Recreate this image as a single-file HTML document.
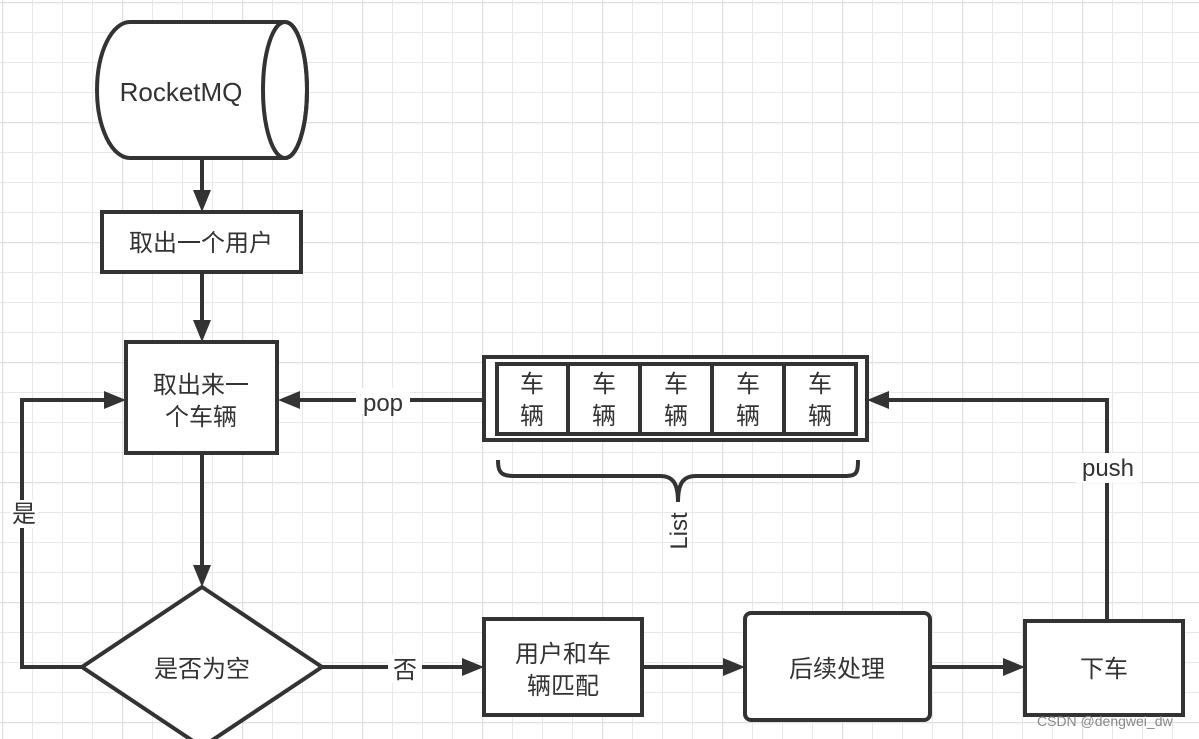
<!DOCTYPE html>
<html><head><meta charset="utf-8"><style>
html,body{margin:0;padding:0;background:#fff}
svg{display:block}
text{font-family:"Liberation Sans","Noto Sans CJK SC",sans-serif;fill:#333;font-size:24px}
</style></head><body>
<svg width="1199" height="739" viewBox="0 0 1199 739" xmlns="http://www.w3.org/2000/svg">
<defs>
<pattern id="g" x="2" y="2" width="30" height="30" patternUnits="userSpaceOnUse">
<path d="M0 0V30M0 0H30" stroke="#e8e8e8" stroke-width="2" fill="none"/>
</pattern>
<pattern id="G" x="2" y="2" width="120" height="120" patternUnits="userSpaceOnUse">
<path d="M0 0V120M0 0H120" stroke="#e0e0e0" stroke-width="2.5" fill="none"/>
</pattern>
</defs>
<rect width="1199" height="739" fill="url(#g)"/>
<rect width="1199" height="739" fill="url(#G)"/>
<g stroke="#333" stroke-width="4" fill="none">
<path d="M130 22 H285 A22 68 0 0 1 285 158 H130 A33 68 0 0 1 130 22 Z" fill="#fff"/>
<ellipse cx="285" cy="90" rx="22" ry="68"/>
<path d="M202 158V196"/>
<rect x="102" y="212" width="199" height="60" fill="#fff"/>
<path d="M202 272V324"/>
<rect x="126" y="342" width="151" height="111" fill="#fff"/>
<path d="M202 453V570"/>
<path d="M202 587L322 667L202 747L82 667Z" fill="#fff"/>
<path d="M82 667H22V400H108"/>
<path d="M322 667H466"/>
<rect x="484" y="619" width="158" height="96" fill="#fff"/>
<path d="M642 667H726"/>
<rect x="745" y="613" width="185" height="107" rx="6" fill="#fff"/>
<path d="M930 667H1007"/>
<rect x="1025" y="621" width="158" height="94" fill="#fff"/>
<path d="M1107 621V400H886"/>
<path d="M484 400H298"/>
<rect x="484" y="357" width="383" height="83" fill="#fff"/>
<rect x="497" y="364" width="359" height="70"/>
<path d="M568 364V434M640 364V434M712 364V434M784 364V434"/>
<path d="M498 460 C498 478 505 476 530 476 H660 C672 476 678 482 678 502 C678 482 684 476 696 476 H830 C855 476 858 478 858 460"/>
</g>
<g fill="#333">
<path d="M202 212L193 190H211Z"/>
<path d="M202 342L193 320H211Z"/>
<path d="M202 587L193 565H211Z"/>
<path d="M126 400L104 391V409Z"/>
<path d="M484 667L462 658V676Z"/>
<path d="M745 667L723 658V676Z"/>
<path d="M1025 667L1003 658V676Z"/>
<path d="M867 400L889 391V409Z"/>
<path d="M278 400L300 391V409Z"/>
</g>
<rect x="356" y="388" width="54" height="26" fill="#fff"/>
<rect x="388" y="655" width="34" height="28" fill="#fff"/>
<rect x="1076" y="453" width="64" height="30" fill="#fff"/>
<rect x="10" y="500" width="28" height="28" fill="#fff"/>
<g text-anchor="middle">
<text x="181" y="101" style="font-size:26px">RocketMQ</text>
<text x="201" y="251">取出一个用户</text>
<text x="201" y="393">取出来一</text>
<text x="201" y="425">个车辆</text>
<text x="202" y="677">是否为空</text>
<text x="405" y="678">否</text>
<text x="24" y="522">是</text>
<text x="383" y="411">pop</text>
<text x="1108" y="476">push</text>
<text x="563" y="662">用户和车</text>
<text x="563" y="694">辆匹配</text>
<text x="837" y="677">后续处理</text>
<text x="1104" y="677">下车</text>
<text x="532" y="392">车</text><text x="532" y="424">辆</text>
<text x="604" y="392">车</text><text x="604" y="424">辆</text>
<text x="676" y="392">车</text><text x="676" y="424">辆</text>
<text x="748" y="392">车</text><text x="748" y="424">辆</text>
<text x="820" y="392">车</text><text x="820" y="424">辆</text>
<text transform="translate(687,531) rotate(-90)">List</text>
</g>
<text x="1037" y="726" style="font-size:14px;fill:#888">CSDN @dengwei_dw</text>
</svg>
</body></html>
